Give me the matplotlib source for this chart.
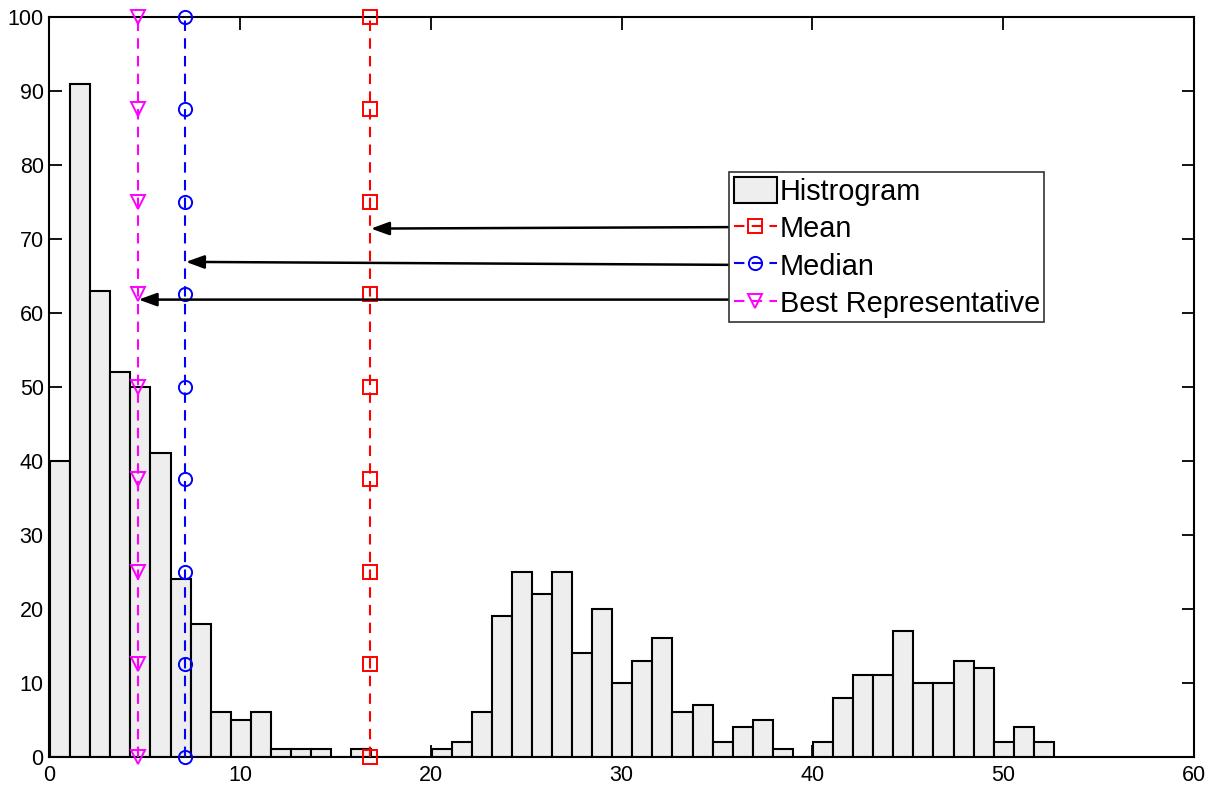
import numpy as np
import matplotlib
matplotlib.use('Agg')
import matplotlib.pyplot as plt

plt.rcParams['font.family'] = ['Liberation Sans', 'DejaVu Sans']

# --- data ---
# 50 histogram bins between data_min and data_max
data_min = 0.04
data_max = 52.66
counts = [40, 91, 63, 52, 50, 41, 24, 18, 6, 5,
          6, 1, 1, 1, 0, 1, 0, 0, 0, 1,
          2, 6, 19, 25, 22, 25, 14, 20, 10, 13,
          16, 6, 7, 2, 4, 5, 1, 0, 2, 8,
          11, 11, 17, 10, 10, 13, 12, 2, 4, 2]
mean_val = 16.81
median_val = 7.11
best_rep_val = 4.63
marker_levels = [0, 12.5, 25, 37.5, 50, 62.5, 75, 87.5, 100]
# arrows: (tail y, tip y) in data units, tails start at the legend edge
arrow_tail_x = 35.6
arrow_mean = (71.6, 71.4)
arrow_median = (66.5, 66.9)
arrow_best = (61.8, 61.8)

# --- figure ---
fig = plt.figure(figsize=(12.14, 7.85), dpi=100)
ax = fig.add_axes([0.0406, 0.036, 0.9429, 0.9423])

n_bins = len(counts)
width = (data_max - data_min) / n_bins
edges = data_min + width * np.arange(n_bins)
hist = ax.bar(edges, counts, width=width, align='edge', color='#eeeeee',
              edgecolor='black', linewidth=1.5, label='Histrogram', zorder=2)

lines_spec = [
    (mean_val, 'red', 's', 'Mean'),
    (median_val, 'blue', 'o', 'Median'),
    (best_rep_val, 'magenta', 'v', 'Best Representative'),
]
handles = [hist]
for xv, col, mk, lab in lines_spec:
    ln, = ax.plot([xv] * len(marker_levels), marker_levels, color=col,
                  linestyle=(0, (5, 3.5)), linewidth=1.5, marker=mk,
                  markersize=9.5, markerfacecolor='none', markeredgecolor=col,
                  markeredgewidth=1.4, label=lab, zorder=3, clip_on=False)
    handles.append(ln)

for (yt, yh), xv in [(arrow_mean, mean_val), (arrow_median, median_val),
                     (arrow_best, best_rep_val)]:
    ax.annotate('', xy=(xv + 0.05, yh), xytext=(arrow_tail_x, yt),
                arrowprops=dict(arrowstyle='-|>,head_length=1.1,head_width=0.4',
                                color='black', lw=1.8, shrinkA=0, shrinkB=0),
                zorder=4)

ax.set_xlim(0, 60)
ax.set_ylim(0, 100)
ax.set_xticks(np.arange(0, 61, 10))
ax.set_yticks(np.arange(0, 101, 10))
ax.tick_params(direction='in', length=9, width=1.3, labelsize=15.5,
               top=True, right=True, pad=4)
ax.tick_params(axis='x', pad=6)
for s in ax.spines.values():
    s.set_linewidth(1.5)

leg = ax.legend(handles=handles, loc='upper left', bbox_to_anchor=(0.594, 0.79),
                fontsize=20.8, frameon=True, fancybox=False,
                edgecolor='#333333', framealpha=1, borderpad=0.15,
                labelspacing=0.3, handlelength=1.5, handleheight=1.0,
                handletextpad=0.1, borderaxespad=0, numpoints=1)
leg.get_frame().set_linewidth(1.2)

fig.savefig('out.png', dpi=100)
